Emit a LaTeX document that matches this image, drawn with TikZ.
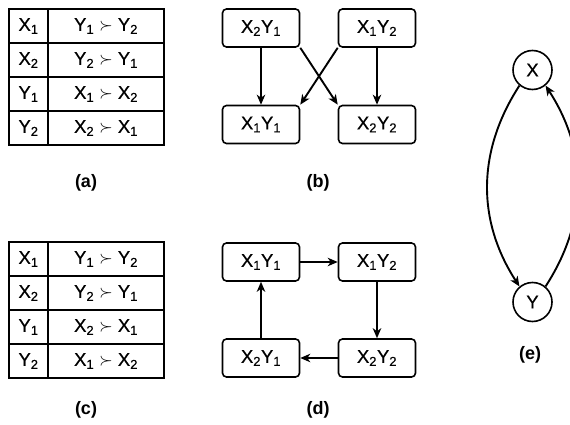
\documentclass[tikz,border=0pt]{standalone}
\usepackage{fontspec}
\setmainfont{Liberation Sans}
\newfontfamily\medfont{Liberation Sans}[FakeBold=0.5]
\usetikzlibrary{arrows.meta}
\newcommand{\sbs}[1]{\textsubscript{#1}}
\tikzset{
  tbl/.style={line width=1.6pt},
  celltxt/.style={font=\medfont\fontsize{18.5}{20}\selectfont, inner sep=0pt, anchor=center},
  statebox/.style={draw, rounded corners=4pt, minimum width=77pt, minimum height=38pt, inner sep=0pt, font=\medfont\fontsize{18.5}{20}\selectfont, line width=1.6pt},
  circ/.style={draw, circle, minimum size=39pt, inner sep=0pt, font=\medfont\fontsize{18.5}{20}\selectfont, line width=1.6pt},
  arr/.style={-{Stealth[length=10pt,width=8.5pt,inset=3pt]}, line width=1.9pt},
  caption/.style={font=\bfseries\fontsize{18}{20}\selectfont, inner sep=0pt}
}
\begin{document}
\begin{tikzpicture}[x=1pt,y=-1pt]
\clip (0,0) rectangle (570,425);
\fill[white] (0,0) rectangle (570,425);
% ---------- table (a)
\draw[tbl] (9,9) rectangle (164,145);
\draw[tbl] (48,9) -- (48,145);
\foreach \yy in {43,77,111} \draw[tbl] (9,\yy) -- (164,\yy);
\node[celltxt] (a11) at (28.5,26) {X\sbs{1}};
\node[celltxt] (a12) at (106,26) {Y\sbs{1} $\succ$ Y\sbs{2}};
\node[celltxt] (a21) at (28.5,60) {X\sbs{2}};
\node[celltxt] (a22) at (106,60) {Y\sbs{2} $\succ$ Y\sbs{1}};
\node[celltxt] (a31) at (28.5,94) {Y\sbs{1}};
\node[celltxt] (a32) at (106,94) {X\sbs{1} $\succ$ X\sbs{2}};
\node[celltxt] (a41) at (28.5,128) {Y\sbs{2}};
\node[celltxt] (a42) at (106,128) {X\sbs{2} $\succ$ X\sbs{1}};
\node[caption] (capa) at (86,183) {(a)};
% ---------- table (c)
\draw[tbl] (9,242) rectangle (164,378);
\draw[tbl] (48,242) -- (48,378);
\foreach \yy in {276,310,344} \draw[tbl] (9,\yy) -- (164,\yy);
\node[celltxt] (c11) at (28.5,259) {X\sbs{1}};
\node[celltxt] (c12) at (106,259) {Y\sbs{1} $\succ$ Y\sbs{2}};
\node[celltxt] (c21) at (28.5,293) {X\sbs{2}};
\node[celltxt] (c22) at (106,293) {Y\sbs{2} $\succ$ Y\sbs{1}};
\node[celltxt] (c31) at (28.5,327) {Y\sbs{1}};
\node[celltxt] (c32) at (106,327) {X\sbs{2} $\succ$ X\sbs{1}};
\node[celltxt] (c41) at (28.5,361) {Y\sbs{2}};
\node[celltxt] (c42) at (106,361) {X\sbs{1} $\succ$ X\sbs{2}};
\node[caption] (capc) at (86,410) {(c)};
% ---------- graph (b)
\node[statebox] (b21) at (261,28) {X\sbs{2}Y\sbs{1}};
\node[statebox] (b12) at (377,28) {X\sbs{1}Y\sbs{2}};
\node[statebox] (b11) at (261,124.5) {X\sbs{1}Y\sbs{1}};
\node[statebox] (b22) at (377,124.5) {X\sbs{2}Y\sbs{2}};
\draw[arr] (b21.south) -- (b11.north);
\draw[arr] (b12.south) -- (b22.north);
\draw[arr] (b21.south east) -- (b22.north west);
\draw[arr] (b12.south west) -- (b11.north east);
\node[caption] (capb) at (318,183) {(b)};
% ---------- graph (d)
\node[statebox] (d11) at (261,262) {X\sbs{1}Y\sbs{1}};
\node[statebox] (d12) at (377,262) {X\sbs{1}Y\sbs{2}};
\node[statebox] (d21) at (261,358) {X\sbs{2}Y\sbs{1}};
\node[statebox] (d22) at (377,358) {X\sbs{2}Y\sbs{2}};
\draw[arr] (d11.east) -- (d12.west);
\draw[arr] (d12.south) -- (d22.north);
\draw[arr] (d22.west) -- (d21.east);
\draw[arr] (d21.north) -- (d11.south);
\node[caption] (capd) at (318,410) {(d)};
% ---------- graph (e)
\node[circ] (ex) at (532.5,70) {X};
\node[circ] (ey) at (532.5,302) {Y};
\draw[arr] (ex.230) to[bend right=33] (ey.130);
\draw[arr] (ey.50) to[bend right=33] (ex.310);
\node[caption] (cape) at (530,355) {(e)};
\end{tikzpicture}
\end{document}
